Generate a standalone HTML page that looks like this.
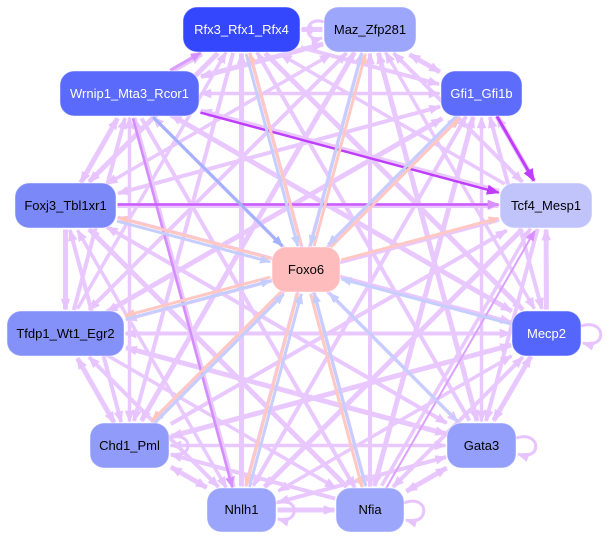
<!DOCTYPE html>
<html><head><meta charset="utf-8">
<style>
html,body{margin:0;padding:0;background:#fff;}
svg{display:block;}
text{font-family:"Liberation Sans",Arial,sans-serif;font-size:13px;text-anchor:middle;}
</style></head>
<body>
<svg id="s" width="611" height="539" viewBox="0 0 611 539" xmlns="http://www.w3.org/2000/svg">
<defs>
<marker id="lp" viewBox="0 0 10 8" refX="9" refY="4" markerWidth="12" markerHeight="10" markerUnits="userSpaceOnUse" orient="auto-start-reverse"><path d="M0,0L10,4L0,8z" fill="#e7c4ff"/></marker>
<marker id="dp" viewBox="0 0 10 8" refX="9" refY="4" markerWidth="13" markerHeight="11" markerUnits="userSpaceOnUse" orient="auto"><path d="M0,0L10,4L0,8z" fill="#c03cff"/></marker>
<marker id="fp" viewBox="0 0 10 8" refX="9" refY="4" markerWidth="12" markerHeight="10" markerUnits="userSpaceOnUse" orient="auto"><path d="M0,0L10,4L0,8z" fill="#d890ff"/></marker>
<marker id="mp" viewBox="0 0 10 8" refX="9" refY="4" markerWidth="11" markerHeight="9" markerUnits="userSpaceOnUse" orient="auto"><path d="M0,0L10,4L0,8z" fill="#d890ff"/></marker>
<marker id="pk" viewBox="0 0 10 8" refX="9" refY="4" markerWidth="11" markerHeight="9" markerUnits="userSpaceOnUse" orient="auto"><path d="M0,0L10,4L0,8z" fill="#ffc6c0"/></marker>
<marker id="bl" viewBox="0 0 10 8" refX="9" refY="4" markerWidth="11" markerHeight="9" markerUnits="userSpaceOnUse" orient="auto"><path d="M0,0L10,4L0,8z" fill="#c6ceff"/></marker>
<marker id="bd" viewBox="0 0 10 8" refX="9" refY="4" markerWidth="11" markerHeight="9" markerUnits="userSpaceOnUse" orient="auto"><path d="M0,0L10,4L0,8z" fill="#a3b2ff"/></marker>
</defs>
<g id="edges"></g>
<g id="loops" fill="none" stroke="#e7c4ff" stroke-width="3">
<path d="M169,438 C194,430 194,460 171,454" marker-end="url(#lp)"/>
<path d="M276,503 C300,495 300,525 278,519" marker-end="url(#lp)"/>
<path d="M404,503 C430,493 430,527 406,520" marker-end="url(#lp)"/>
<path d="M516,438 C542,430 542,462 518,454" marker-end="url(#lp)"/>
<path d="M581,326 C607,318 607,350 583,343" marker-end="url(#lp)"/>
<path d="M324,22 C303,15 303,44 322,38" marker-end="url(#lp)"/>
</g>
<g id="nodes" stroke="#ffffff" stroke-opacity="0.45" stroke-width="1">
<rect x="183" y="7" width="117" height="45" rx="14" fill="#3447fd"/>
<rect x="324" y="7" width="92" height="45" rx="14" fill="#9ca6fb"/>
<rect x="60" y="71" width="139" height="45" rx="14" fill="#5a6afb"/>
<rect x="441" y="71" width="81" height="45" rx="14" fill="#5d6cfb"/>
<rect x="15" y="183" width="101" height="45" rx="14" fill="#7b89f8"/>
<rect x="500" y="183" width="92" height="45" rx="14" fill="#c0c4fb"/>
<rect x="272" y="247" width="68" height="45" rx="14" fill="#ffbcbc"/>
<rect x="7" y="311" width="117" height="45" rx="14" fill="#8391f9"/>
<rect x="512" y="311" width="69" height="45" rx="14" fill="#5566fd"/>
<rect x="90" y="423" width="79" height="45" rx="14" fill="#919cfa"/>
<rect x="447" y="423" width="69" height="45" rx="14" fill="#939ffa"/>
<rect x="207" y="488" width="69" height="44" rx="14" fill="#9aa5fb"/>
<rect x="336" y="488" width="68" height="44" rx="14" fill="#9ca7fb"/>
</g>
<g id="labels">
<text x="241.5" y="34" fill="#ffffff">Rfx3_Rfx1_Rfx4</text>
<text x="370" y="34" fill="#000000">Maz_Zfp281</text>
<text x="129.5" y="98" fill="#ffffff">Wrnip1_Mta3_Rcor1</text>
<text x="481.5" y="98" fill="#ffffff">Gfi1_Gfi1b</text>
<text x="65.5" y="210" fill="#000000">Foxj3_Tbl1xr1</text>
<text x="546" y="210" fill="#000000">Tcf4_Mesp1</text>
<text x="306" y="274" fill="#000000">Foxo6</text>
<text x="65.5" y="338" fill="#000000">Tfdp1_Wt1_Egr2</text>
<text x="546.5" y="338" fill="#ffffff">Mecp2</text>
<text x="129.5" y="450" fill="#000000">Chd1_Pml</text>
<text x="481.5" y="450" fill="#000000">Gata3</text>
<text x="241.5" y="514" fill="#000000">Nhlh1</text>
<text x="370" y="514" fill="#000000">Nfia</text>
</g>
</svg>
<script>
(function(){
var NS="http://www.w3.org/2000/svg";
var N={R:[183,7,117,45],M:[324,7,92,45],W:[60,71,139,45],G:[441,71,81,45],F:[15,183,101,45],T:[500,183,92,45],O:[272,247,68,45],D:[7,311,117,45],E:[512,311,69,45],C:[90,423,79,45],A:[447,423,69,45],N:[207,488,69,44],I:[336,488,68,44]};
function c(k){var n=N[k];return [n[0]+n[2]/2,n[1]+n[3]/2,n[2]/2,n[3]/2];}
var g=document.getElementById("edges");
function line(a,b,col,mk,w,off,bid){
 var A=c(a),B=c(b);
 var dx=B[0]-A[0],dy=B[1]-A[1],L=Math.sqrt(dx*dx+dy*dy),ux=dx/L,uy=dy/L,nx=-uy,ny=ux;
 var ax=A[0]+nx*off,ay=A[1]+ny*off,bx=B[0]+nx*off,by=B[1]+ny*off;
 var ta=Math.min(A[2]/Math.max(Math.abs(ux),1e-9),A[3]/Math.max(Math.abs(uy),1e-9));
 var tb=Math.min(B[2]/Math.max(Math.abs(ux),1e-9),B[3]/Math.max(Math.abs(uy),1e-9));
 var x1=ax+ux*(ta+1.5),y1=ay+uy*(ta+1.5),x2=bx-ux*(tb+1.5),y2=by-uy*(tb+1.5);
 var l=document.createElementNS(NS,"line");
 l.setAttribute("x1",x1.toFixed(1));l.setAttribute("y1",y1.toFixed(1));
 l.setAttribute("x2",x2.toFixed(1));l.setAttribute("y2",y2.toFixed(1));
 l.setAttribute("stroke",col);l.setAttribute("stroke-width",w);
 l.setAttribute("marker-end","url(#"+mk+")");
 if(bid)l.setAttribute("marker-start","url(#"+mk+")");
 g.appendChild(l);
}
var outer=['R','M','G','T','E','A','I','N','C','D','F','W'];
var LP="#e9c8ff";
for(var i=0;i<outer.length;i++){
 for(var j=i+1;j<outer.length;j++){
  var w=[3.5,4,5][(i+2*j)%3];
  var bid=((i*5+j*3)%3)!=0;
  var off=((i+j)%3-1)*2;
  if((i+j)%2==0) line(outer[i],outer[j],LP,"lp",w,off,bid);
  else line(outer[j],outer[i],LP,"lp",w,off,bid);
 }
}
// special colored edges
line('W','R',"#dc9cff","mp",3,0);
line('W','N',"#d48cff","mp",2.5,3);
line('I','T',"#dca0ff","mp",2,3);
line('F','T',"#cc5cff","fp",2.5,-1);
line('W','T',"#bf3dff","dp",2.5,0);
line('G','T',"#c23cff","dp",3,-2);
// pink / blue with Foxo6
var both=['R','M','G','F','D','C','N','I'];
for(var k=0;k<both.length;k++){
 line('O',both[k],"#ffc8c2","pk",3,1.8);
 line(both[k],'O',"#c6ceff","bl",3,1.8);
}
line('W','O',"#a3b2ff","bd",3,0);
line('A','O',"#c6ceff","bl",3,0);
line('E','O',"#c6ceff","bl",3,0);
line('O','T',"#ffc8c2","pk",3,0);
})();
</script>
</body></html>
